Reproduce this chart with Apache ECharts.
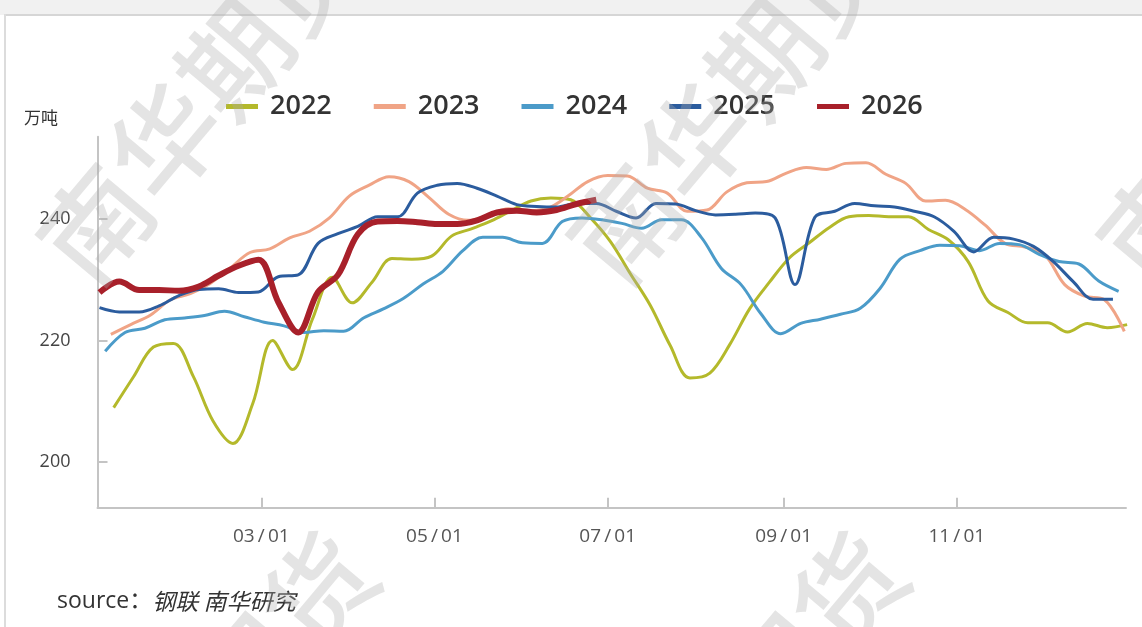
<!DOCTYPE html>
<html>
<head>
    <meta charset="UTF-8">
    <title>季节性</title>
    <script src="https://cdn.jsdelivr.net/npm/echarts@6/dist/echarts.min.js"></script>
    <style>
        html, body {
            margin: 0;
            padding: 0;
            width: 1142px;
            height: 627px;
            background: #fff;
        }
        #main {
            width: 1142px;
            height: 627px;
        }
    </style>
</head>
<body>
<div id="main"></div>
<script>
    // 周度数据: 每个年份给出第一周的日期(MM-DD), 之后每 7 天一个点
    var years = ['2022', '2023', '2024', '2025', '2026'];
    var startDates = ['01-08', '01-07', '01-05', '01-03', '01-03'];

    var values2022 = [208.9, 214.0, 218.9, 219.5, 214.1, 206.7, 203.0, 209.6, 220.0, 215.2,
        223.5, 230.4, 226.2, 229.6, 233.5, 233.4, 233.9, 237.2, 238.4, 239.7,
        241.4, 243.0, 243.5, 243.2, 240.2, 236.3, 231.0, 225.8, 219.2, 213.8,
        214.6, 219.3, 225.2, 229.6, 233.6, 236.1, 238.6, 240.4, 240.6, 240.4,
        240.4, 238.3, 236.6, 233.0, 226.5, 224.6, 222.9, 222.9, 221.4, 222.8,
        222.1, 222.6];
    var values2023 = [221.0, 222.6, 224.2, 226.7, 227.7, 229.4, 231.9, 234.5, 235.1, 236.9,
        238.0, 240.2, 243.8, 245.6, 247.0, 246.2, 243.6, 240.8, 239.8, 240.6,
        241.7, 241.4, 241.8, 243.8, 246.2, 247.2, 247.1, 245.1, 244.3, 241.3,
        241.5, 244.5, 246.0, 246.2, 247.6, 248.5, 248.2, 249.2, 249.3, 247.4,
        245.9, 243.0, 243.1, 241.6, 239.0, 236.0, 235.4, 234.1, 229.2, 227.3,
        226.7, 221.5];
    var values2024 = [218.2, 221.3, 222.0, 223.4, 223.7, 224.1, 224.8, 223.9, 223.0, 222.4,
        221.3, 221.6, 221.5, 223.7, 225.2, 226.9, 229.3, 231.4, 234.8, 237.0,
        237.0, 236.1, 236.0, 239.6, 240.2, 239.9, 239.3, 238.5, 239.9, 239.9,
        237.0, 231.9, 229.2, 224.4, 221.1, 222.8, 223.5, 224.3, 225.3, 228.6,
        233.4, 234.8, 235.7, 235.6, 234.8, 236.0, 235.8, 234.2, 233.0, 232.6,
        229.8, 228.1];
    var values2025 = [225.4, 224.7, 224.7, 225.7, 227.4, 228.4, 228.5, 227.9, 228.0, 230.5,
        230.8, 236.0, 237.6, 238.8, 240.4, 240.4, 244.3, 245.6, 245.9, 245.1,
        243.8, 242.4, 242.1, 242.0, 242.6, 242.6, 241.3, 240.2, 242.6, 242.5,
        241.4, 240.7, 240.8, 241.0, 240.2, 229.2, 240.3, 241.3, 242.6, 242.2,
        242.0, 241.3, 240.4, 238.0, 234.6, 237.0, 236.7, 235.5, 233.0, 229.7,
        226.8, 226.8];
    var values2026 = [227.9, 229.7, 228.3, 228.3, 228.2, 228.9, 230.7, 232.3, 233.3, 226.3,
        221.3, 228.0, 230.8, 237.5, 239.6, 239.7, 239.5, 239.2, 239.2, 239.8,
        241.1, 241.4, 241.1, 241.5, 242.5, 243.2];
    var seriesValues = [values2022, values2023, values2024, values2025, values2026];

    var colors = ['#b4b92b', '#f0a486', '#4b9bc9', '#2b5c9e', '#a8202a'];
    var lineWidths = [3, 3, 3, 3, 6];

    var xTickLabels = ['03/01', '05/01', '07/01', '09/01', '11/01'];
    var yTickLabels = [200, 220, 240];

    // 月份起始(平年), 1月1日 = 0
    var MONTH_START = [0, 31, 59, 90, 120, 151, 181, 212, 243, 273, 304, 334];
    function dayOfYear(md) {
        var p = md.split(/[-\/]/).map(Number);
        return MONTH_START[p[0] - 1] + p[1] - 1;
    }

    var xTicks = xTickLabels.map(dayOfYear);

    var series = years.map(function (y, i) {
        var d0 = dayOfYear(startDates[i]);
        return {
            name: y,
            type: 'line',
            smooth: 0.35,
            showSymbol: false,
            symbol: 'none',
            data: seriesValues[i].map(function (v, k) { return [d0 + 7 * k, v]; }),
            lineStyle: { color: colors[i], width: lineWidths[i] },
            itemStyle: { color: colors[i] },
            z: 2 + i
        };
    });

    // 水印
    var wmCenters = [[200, 100], [730, 100], [1260, 100], [215, 716], [745, 716]];
    var watermarks = wmCenters.map(function (c) {
        return {
            type: 'text',
            x: c[0],
            y: c[1],
            rotation: 50 * Math.PI / 180,
            z: 100,
            silent: true,
            style: {
                text: '南华期货',
                fontSize: 108,
                fontFamily: 'Noto Sans CJK SC',
                fontWeight: 500,
                fill: 'rgba(170,170,170,0.32)',
                align: 'center',
                verticalAlign: 'middle'
            }
        };
    });

    var chart = echarts.init(document.getElementById('main'));
    chart.setOption({
        backgroundColor: '#fff',
        animation: false,
        color: colors,
        textStyle: { fontFamily: 'Open Sans, "Noto Sans CJK SC", sans-serif' },
        legend: {
            data: years,
            left: 221,
            top: 88,
            icon: 'rect',
            itemWidth: 32,
            itemHeight: 5,
            itemGap: 42,
            textStyle: {
                fontSize: 27,
                fontWeight: 600,
                color: '#333',
                padding: [0, 0, 0, 7]
            }
        },
        grid: {
            left: 97.5,
            right: 16,
            top: 136.7,
            bottom: 119.3
        },
        xAxis: {
            type: 'value',
            min: 1.3,
            max: 363.6,
            splitLine: { show: false },
            axisLine: { lineStyle: { color: '#c4c4c4', width: 2 } },
            axisTick: {
                customValues: xTicks,
                inside: true,
                length: 10,
                lineStyle: { color: '#c4c4c4', width: 2 }
            },
            axisLabel: {
                customValues: xTicks,
                formatter: function (v) {
                    return xTickLabels[xTicks.indexOf(v)].replace('/', '\u2009/\u2009');
                },
                fontSize: 19,
                color: '#555',
                margin: 19
            }
        },
        yAxis: {
            type: 'value',
            min: 192.4,
            max: 253.6,
            splitLine: { show: false },
            axisLine: { show: true, lineStyle: { color: '#c4c4c4', width: 2 } },
            axisTick: {
                show: true,
                customValues: yTickLabels,
                inside: true,
                length: 10,
                lineStyle: { color: '#c4c4c4', width: 2 }
            },
            axisLabel: {
                customValues: yTickLabels,
                fontSize: 18,
                color: '#444',
                margin: 27
            }
        },
        graphic: [
            { type: 'rect', shape: { x: 0, y: 0, width: 1142, height: 15 }, style: { fill: '#f1f1f1' }, silent: true },
            { type: 'rect', shape: { x: 5, y: 14, width: 1137, height: 2 }, style: { fill: '#d6d6d6' }, silent: true },
            { type: 'rect', shape: { x: 4, y: 14, width: 2, height: 613 }, style: { fill: '#dcdcdc' }, silent: true },
            {
                type: 'text', left: 24, top: 109,
                style: { text: '万吨', fontSize: 17, fill: '#333', fontFamily: 'Noto Sans CJK SC' }
            },
            {
                type: 'text', left: 57, top: 590,
                style: {
                    text: '{a|source：}{b|钢联 南华研究}',
                    rich: {
                        a: { fontSize: 23, fill: '#333', fontFamily: 'Open Sans, "Noto Sans CJK SC"' },
                        b: { fontSize: 23, fill: '#333', fontStyle: 'italic', fontFamily: 'Noto Sans CJK SC' }
                    }
                }
            }
        ].concat(watermarks),
        series: series
    });
</script>
</body>
</html>
